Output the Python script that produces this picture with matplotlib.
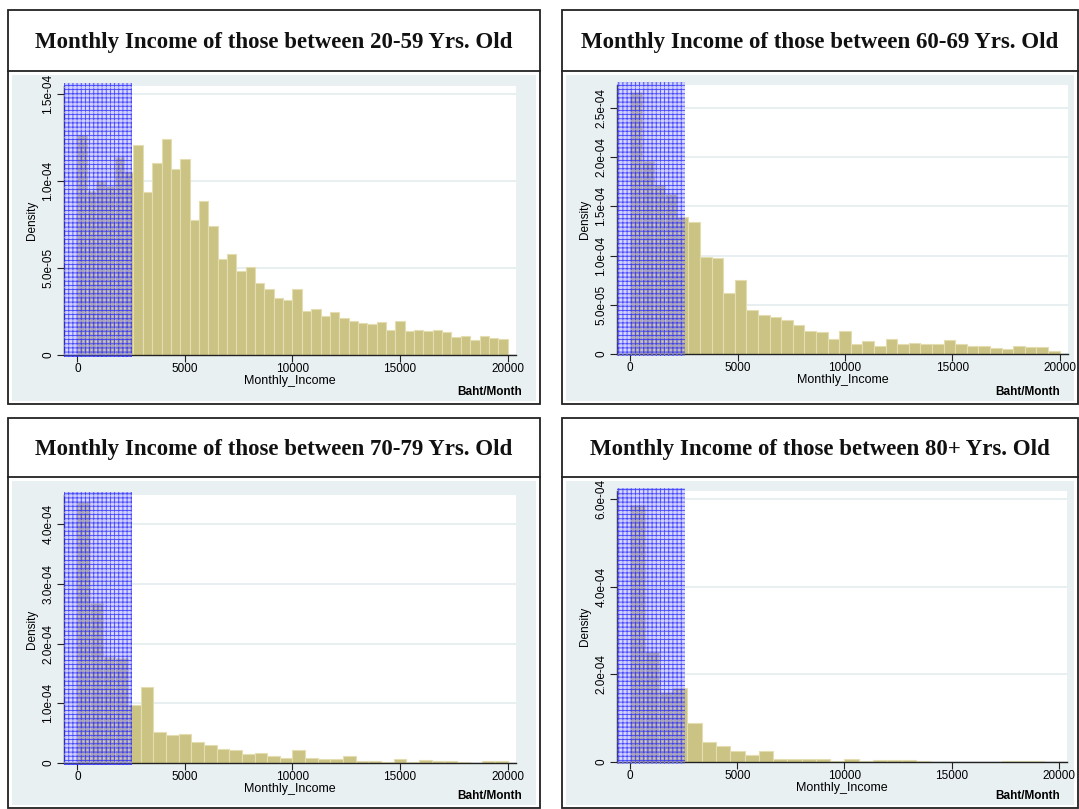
import numpy as np
import matplotlib.pyplot as plt
from matplotlib.patches import Rectangle
from matplotlib.transforms import blended_transform_factory

W, H = 1079, 809

# density of monthly income, units of 1e-4, one value per bin (bins start at 0)
dens_20_59 = [1.265, 0.94, 1.00, 0.97, 1.14, 1.05, 1.207, 0.937, 1.104, 1.238,
              1.069, 1.127, 0.775, 0.885, 0.739, 0.553, 0.578, 0.482, 0.503, 0.415,
              0.378, 0.326, 0.315, 0.379, 0.255, 0.264, 0.226, 0.249, 0.213, 0.197,
              0.186, 0.176, 0.190, 0.144, 0.197, 0.138, 0.146, 0.138, 0.146, 0.132,
              0.105, 0.107, 0.086, 0.107, 0.096, 0.094]
dens_60_69 = [2.66, 1.96, 1.72, 1.63, 1.39, 1.337, 0.985, 0.975, 0.62, 0.755,
              0.45, 0.40, 0.38, 0.35, 0.29, 0.237, 0.22, 0.152, 0.237, 0.10,
              0.132, 0.078, 0.156, 0.105, 0.115, 0.105, 0.105, 0.146, 0.105, 0.081,
              0.081, 0.064, 0.054, 0.081, 0.068, 0.068, 0.027]
dens_70_79 = [4.375, 2.675, 1.77, 1.76, 0.964, 1.265, 0.518, 0.474, 0.49, 0.345,
              0.30, 0.234, 0.217, 0.15, 0.167, 0.11, 0.084, 0.223, 0.089, 0.072,
              0.072, 0.11, 0.028, 0.028, 0.022, 0.072, 0.022, 0.05, 0.028, 0.028,
              0.022, 0.0, 0.033, 0.028]
dens_80 = [5.87, 2.52, 1.60, 1.68, 0.883, 0.464, 0.373, 0.259, 0.167, 0.259,
           0.076, 0.076, 0.076, 0.076, 0.03, 0.076, 0.03, 0.053, 0.053, 0.053,
           0.015, 0.0, 0.008, 0.008, 0.008, 0.008, 0.03, 0.03, 0.03]

# bin width (Baht) for each age group
width_20_59 = 20000 / 46
width_60_69 = 20000 / 37
width_70_79 = 20000 / 34
width_80 = 666.7

xticks = [0, 5000, 10000, 15000, 20000]
xticklabels = ['0', '5000', '10000', '15000', '20000']

yticks_20_59 = [0, 0.5, 1.0, 1.5]
ylabels_20_59 = ['0', '5.0e-05', '1.0e-04', '1.5e-04']
yticks_60_69 = [0, 0.5, 1.0, 1.5, 2.0, 2.5]
ylabels_60_69 = ['0', '5.0e-05', '1.0e-04', '1.5e-04', '2.0e-04', '2.5e-04']
yticks_70_79 = [0, 1, 2, 3, 4]
ylabels_70_79 = ['0', '1.0e-04', '2.0e-04', '3.0e-04', '4.0e-04']
yticks_80 = [0, 2, 4, 6]
ylabels_80 = ['0', '2.0e-04', '4.0e-04', '6.0e-04']

titles = ['Monthly Income of those between 20-59 Yrs. Old',
          'Monthly Income of those between 60-69 Yrs. Old',
          'Monthly Income of those between 70-79 Yrs. Old',
          'Monthly Income of those between 80+ Yrs. Old']

BAR = '#cbc383'
BAR_EDGE = '#e4ddb2'
REGION = '#e9f0f2'
GRID = '#e3ecef'

XMIN, XMAX = -620, 20390
SHADE_END = 2550

plt.rcParams['font.family'] = ['Liberation Sans', 'DejaVu Sans']
plt.rcParams['hatch.linewidth'] = 0.6

fig = plt.figure(figsize=(W / 100, H / 100), dpi=100)


def fig_rect(x0, y0, x1, y1):
    # pixel box (top-left origin) -> figure fraction [l, b, w, h]
    return [x0 / W, 1 - y1 / H, (x1 - x0) / W, (y1 - y0) / H]


def panel(box, tline, axbox, dens, width, ymax, yt, yl, title):
    bx0, by0, bx1, by1 = box
    l, b, w, h = fig_rect(bx0, by0, bx1, by1)
    # outer frame and graph region
    g = fig_rect(bx0 + 4, tline + 4, bx1 - 4, by1 - 3)
    fig.add_artist(Rectangle((g[0], g[1]), g[2], g[3], transform=fig.transFigure,
                             facecolor=REGION, edgecolor='none', zorder=0))
    fig.add_artist(Rectangle((l, b), w, h, transform=fig.transFigure,
                             facecolor='none', edgecolor='#222222', lw=1.3, zorder=5))
    fig.add_artist(plt.Line2D([l, l + w], [1 - tline / H] * 2, transform=fig.transFigure,
                              color='#222222', lw=1.3, zorder=5))
    fig.text((bx0 + bx1) / 2 / W, 1 - ((by0 + tline) / 2 + 2) / H, title,
             ha='center', va='center', fontsize=16.5, fontweight='bold',
             family='Liberation Serif', color='#111111')

    ax = fig.add_axes(fig_rect(*axbox))
    ax.set_facecolor('white')
    ax.set_zorder(2)
    edges = np.arange(len(dens)) * width
    ax.bar(edges, dens, width=width, align='edge', color=BAR,
           edgecolor=BAR_EDGE, linewidth=0.8, zorder=2)
    ax.set_xlim(XMIN, XMAX)
    ax.set_ylim(0, ymax)
    ax.set_xticks(xticks)
    ax.set_xticklabels(xticklabels)
    ax.set_yticks(yt)
    ax.set_yticklabels(yl, rotation=90, va='center')
    ax.tick_params(labelsize=8.5, length=5, width=0.8, color='#222222', pad=2)
    ax.tick_params(axis='x', pad=1)
    ax.yaxis.grid(True, color=GRID, lw=1.2)
    ax.set_axisbelow(True)
    for s in ('top', 'right'):
        ax.spines[s].set_visible(False)
    for s in ('left', 'bottom'):
        ax.spines[s].set_color('#222222')
        ax.spines[s].set_linewidth(1.0)
    ax.set_ylabel('Density', fontsize=8.5, labelpad=3)
    ax.set_xlabel('Monthly_Income', fontsize=9, labelpad=0)

    # blue cross-hatched block over the lowest incomes
    tr = blended_transform_factory(ax.transData, ax.transAxes)
    ax.add_patch(Rectangle((XMIN, -0.006), SHADE_END - XMIN, 1.018, transform=tr,
                           facecolor=(0.45, 0.45, 1.0, 0.35), edgecolor=(0.15, 0.15, 1.0, 0.8),
                           hatch='++++', lw=0, clip_on=False, zorder=4))
    ax.add_patch(Rectangle((XMIN, -0.006), SHADE_END - XMIN, 1.018, transform=tr,
                           facecolor='none', edgecolor=(1, 1, 1, 0.3),
                           hatch='....', lw=0, clip_on=False, zorder=4.5))

    fig.text((bx1 - 18) / W, 1 - (by1 - 12) / H, 'Baht/Month', ha='right', va='center',
             fontsize=8.5, fontweight='bold')
    return ax


panel((8, 10, 540, 404), 71, (64, 86, 516, 355), dens_20_59, width_20_59,
      1.545, yticks_20_59, ylabels_20_59, titles[0])
panel((562, 10, 1078, 404), 71, (617, 85, 1068, 354), dens_60_69, width_60_69,
      2.734, yticks_60_69, ylabels_60_69, titles[1])
panel((8, 418, 540, 808), 477, (64, 495, 516, 763), dens_70_79, width_70_79,
      4.49, yticks_70_79, ylabels_70_79, titles[2])
panel((562, 418, 1078, 808), 477, (617, 491, 1067, 762), dens_80, width_80,
      6.19, yticks_80, ylabels_80, titles[3])

fig.savefig('out.png', dpi=100)
